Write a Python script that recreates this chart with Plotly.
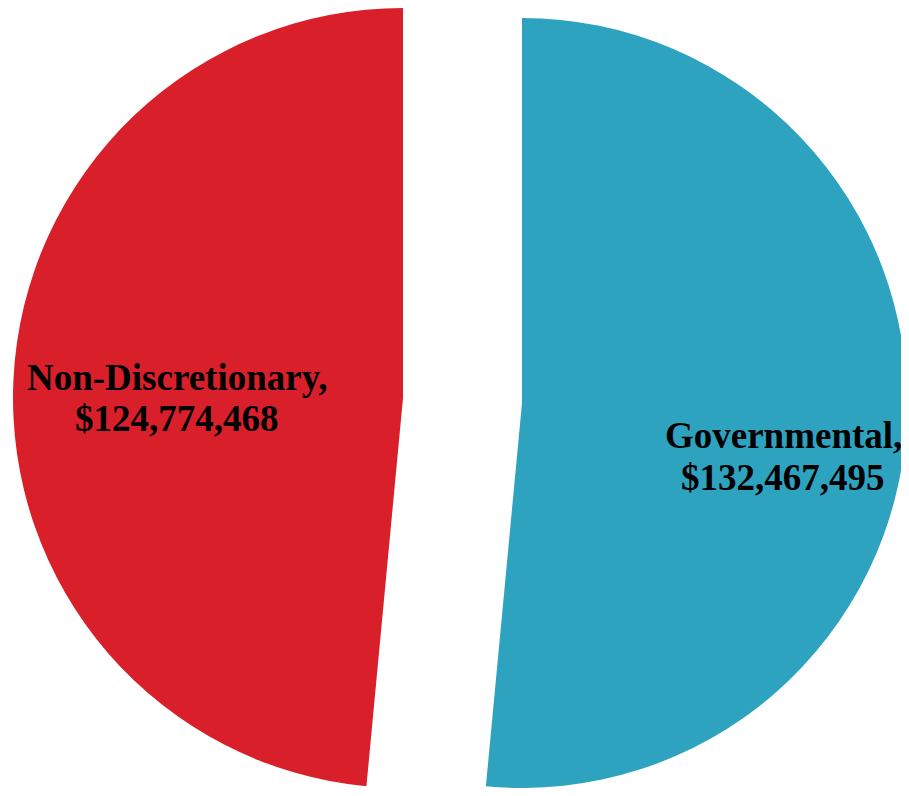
import plotly.graph_objects as go

categories = ["Governmental", "Non-Discretionary"]
values = [132467495, 124774468]
colors = ["#2EA3C0", "#D9202A"]

W, H = 901, 780
transparent = "rgba(0,0,0,0)"

fig = go.Figure()

# Each slice drawn by its own pie trace (the other slice transparent) so that the
# slices can be separated ("exploded") while keeping the full radius.
domains = [
    dict(x=[127 / W, 1.0], y=[0.0, 1 - 10 / H]),   # Governmental
    dict(x=[5 / W, 785 / W], y=[0.0, 1.0]),        # Non-Discretionary
]
for i, cat in enumerate(categories):
    cols = [colors[j] if j == i else transparent for j in range(len(categories))]
    fig.add_trace(go.Pie(
        labels=categories,
        values=values,
        marker=dict(colors=cols, line=dict(width=0)),
        sort=False,
        direction="clockwise",
        rotation=0,
        textinfo="none",
        hoverinfo="label+value+percent",
        showlegend=False,
        domain=domains[i],
    ))

# label line positions (paper px): [(x, middle_y_line1, middle_y_line2)]
label_pos = [(775, 427.5, 469.5), (169, 369.5, 410.5)]
for i, cat in enumerate(categories):
    lines = [f"{cat},", f"${values[i]:,}"]
    x, y1, y2 = label_pos[i]
    for txt, yy in zip(lines, (y1, y2)):
        fig.add_annotation(
            x=x / W, y=1 - yy / H, xref="paper", yref="paper",
            text=txt, showarrow=False, xanchor="center", yanchor="middle",
            font=dict(family="Liberation Serif", size=37, color="black", weight="bold"),
        )

fig.update_layout(
    width=W, height=H,
    margin=dict(l=0, r=0, t=0, b=0),
    paper_bgcolor="white",
    plot_bgcolor="white",
)

fig.write_html("out.html")
